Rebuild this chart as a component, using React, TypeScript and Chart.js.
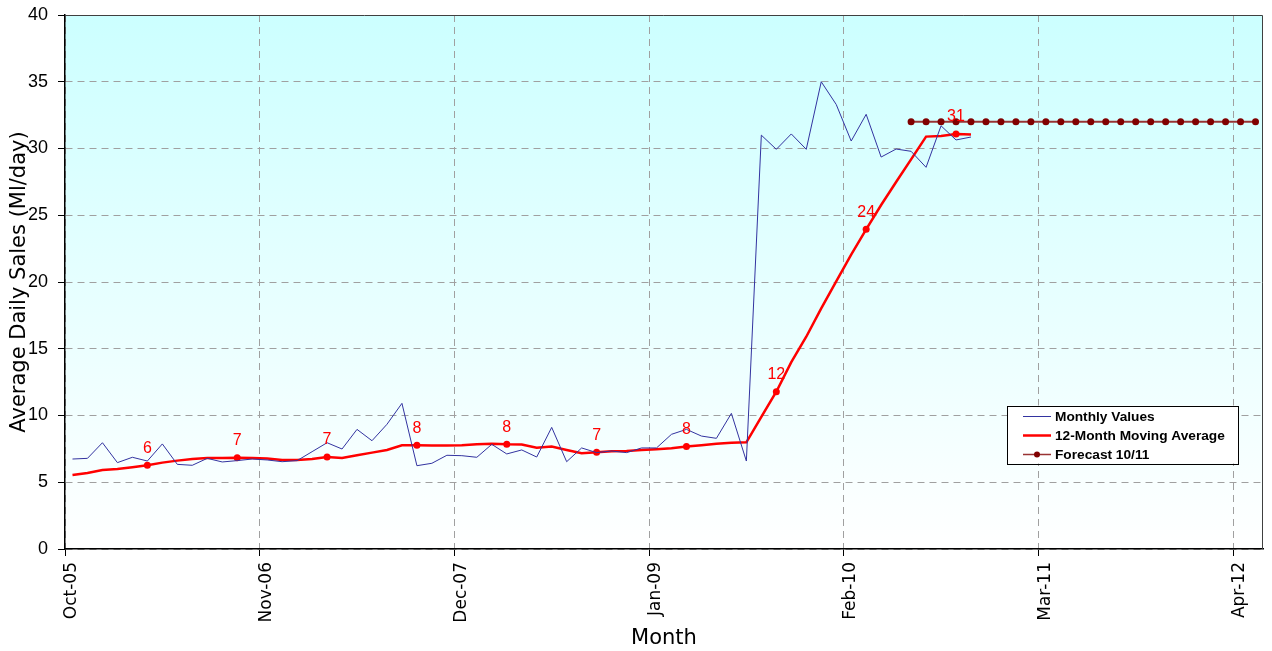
import React, { useEffect, useRef } from 'react';
import { Chart, registerables } from 'chart.js';

Chart.register(...registerables);

// ---- data ----
const monthlyValues = [
  6.74, 6.79, 7.96, 6.47, 6.87, 6.59, 7.87, 6.34, 6.27, 6.79, 6.52, 6.62,
  6.74, 6.67, 6.54, 6.62, 7.29, 7.96, 7.49, 8.96, 8.11, 9.34, 10.91, 6.24,
  6.42, 7.02, 6.99, 6.87, 7.84, 7.12, 7.42, 6.89, 9.11, 6.54, 7.57, 7.22,
  7.34, 7.22, 7.57, 7.57, 8.59, 8.96, 8.46, 8.29, 10.16, 6.59, 31.0, 29.94,
  31.09, 29.94, 35.0, 33.3, 30.56, 32.56, 29.36, 29.96, 29.79, 28.59, 31.7, 30.64,
  30.86,
];

const movingAverage = [
  5.54, 5.69, 5.92, 5.99, 6.12, 6.27, 6.47, 6.62, 6.74, 6.82, 6.82, 6.84,
  6.82, 6.77, 6.67, 6.67, 6.74, 6.89, 6.82, 7.02, 7.22, 7.42, 7.77, 7.77,
  7.75, 7.75, 7.77, 7.84, 7.89, 7.84, 7.82, 7.59, 7.67, 7.42, 7.17, 7.24,
  7.32, 7.34, 7.42, 7.47, 7.54, 7.67, 7.77, 7.89, 7.96, 7.99, 9.9, 11.78,
  14.0, 15.9, 18.03, 20.05, 22.05, 23.95, 25.77, 27.49, 29.19, 30.89, 30.94, 31.09,
  31.04,
];

const forecastValues = [
  32, 32, 32, 32, 32, 32, 32, 32, 32, 32, 32, 32,
  32, 32, 32, 32, 32, 32, 32, 32, 32, 32, 32, 32,
];
const forecastStartMonth = 56; // Jun-10

const labelledMonths = [5, 11, 17, 23, 29, 35, 41, 47, 53, 59];

const tickMonths = [0, 13, 26, 39, 52, 65, 78];
const tickLabels = ['Oct-05', 'Nov-06', 'Dec-07', 'Jan-09', 'Feb-10', 'Mar-11', 'Apr-12'];
const totalMonths = 80;

const legendItems = ['Monthly Values', '12-Month Moving Average', 'Forecast 10/11'];

const BLUE = '#3333A0';
const RED = '#FF0000';
const DARKRED = '#800000';
const FORECAST_LINE = '#993333';

const toPoints = (arr: number[], start = 0) => arr.map((v, i) => ({ x: start + i + 0.5, y: v }));

const bgPlugin = {
  id: 'bgPlugin',
  beforeDraw(chart: any) {
    const { ctx, chartArea: a } = chart;
    const g = ctx.createLinearGradient(0, a.top, 0, a.bottom);
    g.addColorStop(0, '#CCFFFF');
    g.addColorStop(1, '#FFFFFF');
    ctx.save();
    ctx.fillStyle = g;
    ctx.fillRect(a.left, a.top, a.right - a.left, a.bottom - a.top);
    ctx.restore();
  },
  beforeDatasetsDraw(chart: any) {
    const { ctx, chartArea: a } = chart;
    ctx.save();
    ctx.strokeStyle = '#404040';
    ctx.lineWidth = 1;
    ctx.beginPath();
    ctx.moveTo(a.left, Math.round(a.top) + 0.5);
    ctx.lineTo(Math.round(a.right) - 0.5, Math.round(a.top) + 0.5);
    ctx.lineTo(Math.round(a.right) - 0.5, a.bottom);
    ctx.stroke();
    ctx.restore();
  },
  afterDatasetsDraw(chart: any) {
    const { ctx } = chart;
    const meta = chart.getDatasetMeta(1);
    ctx.save();
    ctx.fillStyle = RED;
    ctx.font = '16px "Liberation Sans", Arial, sans-serif';
    ctx.textAlign = 'center';
    ctx.textBaseline = 'middle';
    labelledMonths.forEach((i) => {
      const el = meta.data[i];
      if (!el) return;
      ctx.fillText(String(Math.round(movingAverage[i])), el.x, el.y - 17);
    });
    ctx.restore();
  },
  afterDraw(chart: any) {
    const { ctx, chartArea: a } = chart;
    const right = a.right - 25;
    const left = right - 231;
    const top = chart.scales.y.getPixelForValue(10) - 10;
    const h = 58;
    ctx.save();
    ctx.fillStyle = '#FFFFFF';
    ctx.fillRect(left, top, right - left, h);
    ctx.strokeStyle = '#000000';
    ctx.lineWidth = 1;
    ctx.strokeRect(Math.round(left) + 0.5, Math.round(top) + 0.5, right - left, h);
    ctx.font = 'bold 13.7px "Liberation Sans", Arial, sans-serif';
    ctx.textBaseline = 'middle';
    ctx.fillStyle = '#000';
    const rows = [top + 11, top + 30, top + 49];
    const styles = [
      { color: BLUE, width: 1, dot: false },
      { color: RED, width: 2.5, dot: false },
      { color: FORECAST_LINE, width: 1.5, dot: true },
    ];
    legendItems.forEach((t, k) => {
      const y = rows[k];
      const s = styles[k];
      ctx.strokeStyle = s.color;
      ctx.lineWidth = s.width;
      ctx.beginPath();
      ctx.moveTo(left + 16, y);
      ctx.lineTo(left + 44, y);
      ctx.stroke();
      if (s.dot) {
        ctx.fillStyle = DARKRED;
        ctx.beginPath();
        ctx.arc(left + 30, y, 3, 0, Math.PI * 2);
        ctx.fill();
      }
      ctx.fillStyle = '#000';
      ctx.fillText(t, left + 48, y + 0.5);
    });
    ctx.restore();
  },
};

export default function App() {
  const ref = useRef<HTMLCanvasElement | null>(null);

  useEffect(() => {
    if (!ref.current) return;
    const chart = new Chart(ref.current, {
      type: 'line',
      data: {
        datasets: [
          {
            label: legendItems[0],
            data: toPoints(monthlyValues),
            borderColor: BLUE,
            borderWidth: 1,
            pointRadius: 0,
            tension: 0,
          },
          {
            label: legendItems[1],
            data: toPoints(movingAverage),
            borderColor: RED,
            backgroundColor: RED,
            borderWidth: 2.5,
            pointRadius: (c: any) => (labelledMonths.includes(c.dataIndex) ? 3.5 : 0),
            pointBorderWidth: 0,
            tension: 0,
          },
          {
            label: legendItems[2],
            data: toPoints(forecastValues, forecastStartMonth),
            borderColor: FORECAST_LINE,
            backgroundColor: DARKRED,
            pointBackgroundColor: DARKRED,
            borderWidth: 2,
            pointRadius: 3.5,
            pointBorderWidth: 0,
            tension: 0,
          },
        ],
      },
      options: {
        responsive: false,
        animation: false,
        events: [],
        layout: { padding: { top: 15, right: 9, left: 0, bottom: 0 } },
        plugins: { legend: { display: false }, tooltip: { enabled: false } },
        scales: {
          x: {
            type: 'linear',
            min: 0,
            max: totalMonths,
            afterBuildTicks: (s: any) => {
              s.ticks = tickMonths.map((v) => ({ value: v }));
            },
            afterFit: (s: any) => {
              s.height = 102;
              s.paddingLeft = 0;
              s.paddingRight = 0;
            },
            ticks: {
              autoSkip: false,
              minRotation: 90,
              maxRotation: 90,
              padding: 6,
              labelOffset: 7,
              color: '#000',
              font: { family: '"DejaVu Sans", sans-serif', size: 17 },
              callback: (_v: any, i: number) => tickLabels[i] ?? '',
            },
            grid: {
              color: '#A0A0A0',
              lineWidth: 1,
              tickLength: 7,
              tickColor: '#000',
              tickBorderDash: [],
            },
            border: { display: true, color: '#000', width: 1.5, dash: [7, 5] },
            title: {
              display: true,
              text: 'Month',
              color: '#000',
              font: { family: '"DejaVu Sans", sans-serif', size: 21 },
              padding: { top: 0, bottom: 0 },
            },
          },
          y: {
            type: 'linear',
            min: 0,
            max: 40,
            afterFit: (s: any) => {
              s.width = 65;
              s.paddingTop = 0;
              s.paddingBottom = 0;
            },
            ticks: {
              stepSize: 5,
              padding: 10,
              color: '#000',
              font: { family: '"Liberation Sans", Arial, sans-serif', size: 18 },
            },
            grid: {
              color: '#A0A0A0',
              lineWidth: 1,
              tickLength: 7,
              tickColor: '#000',
              tickBorderDash: [],
            },
            border: { display: true, color: '#000', width: 1.5, dash: [7, 5] },
            title: {
              display: true,
              text: 'Average Daily Sales (Ml/day)',
              color: '#000',
              font: { family: '"DejaVu Sans", sans-serif', size: 21 },
              padding: { top: 7, bottom: 0 },
            },
          },
        },
      },
      plugins: [bgPlugin],
    } as any);
    return () => chart.destroy();
  }, []);

  return (
    <div style={{ position: 'fixed', left: 0, top: 0, width: 1272, height: 651, background: '#fff' }}>
      <canvas ref={ref} width={1272} height={651} style={{ display: 'block' }} />
    </div>
  );
}
